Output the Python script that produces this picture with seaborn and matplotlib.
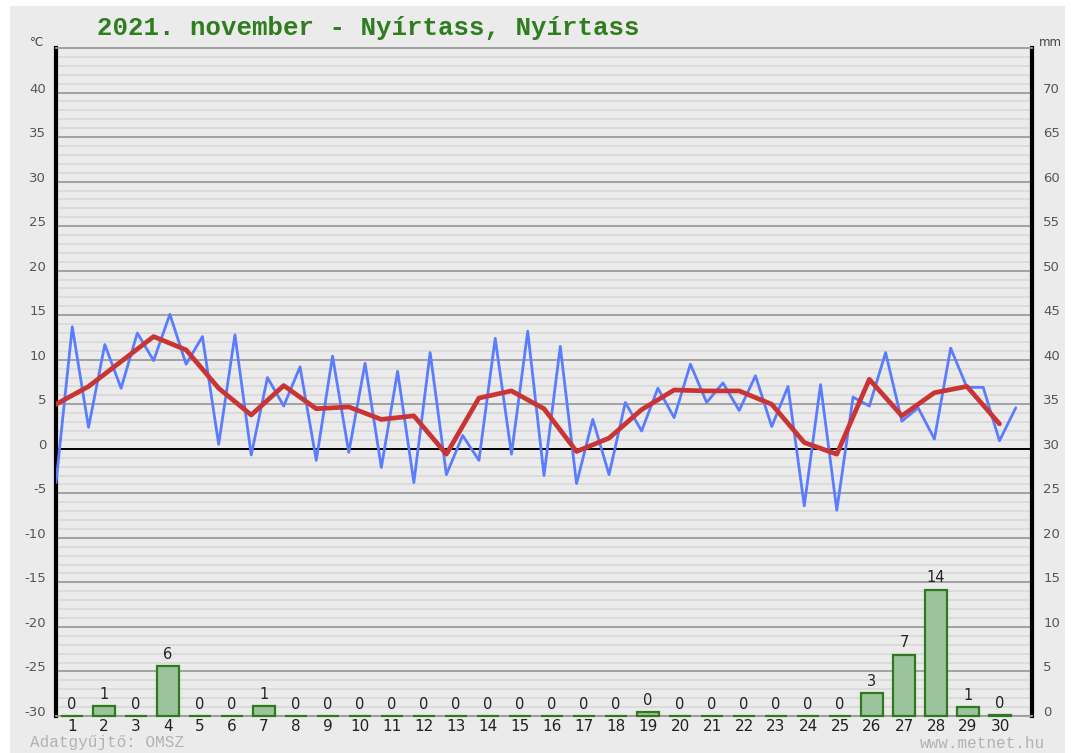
import numpy as np
import pandas as pd
import matplotlib
matplotlib.use("Agg")
import matplotlib.pyplot as plt
import matplotlib.transforms as mtransforms
from matplotlib.patches import Rectangle
import seaborn as sns

# ── Data ──────────────────────────────────────────────────────────────────────
title = "2021. november - Nyírtass, Nyírtass"

# half-day temperatures (night min / day max alternating), °C
temp_halfday = [-3.8, 13.7, 2.4, 11.7, 6.8, 13.0, 9.9, 15.1, 9.5, 12.6,
                0.5, 12.8, -0.7, 8.0, 4.8, 9.2, -1.3, 10.4, -0.4, 9.6,
                -2.1, 8.7, -3.8, 10.8, -2.9, 1.5, -1.3, 12.4, -0.6, 13.2,
                -3.0, 11.5, -3.9, 3.3, -2.9, 5.2, 2.0, 6.8, 3.5, 9.5,
                5.2, 7.4, 4.3, 8.2, 2.5, 7.0, -6.4, 7.2, -6.9, 5.8,
                4.8, 10.8, 3.1, 4.6, 1.1, 11.3, 6.9, 6.9, 0.9, 4.6]

# daily mean temperature, °C
temp_mean = [5.0, 7.0, 9.8, 12.6, 11.1, 6.8, 3.8, 7.1, 4.5, 4.7,
             3.3, 3.7, -0.6, 5.7, 6.5, 4.5, -0.3, 1.2, 4.4, 6.6,
             6.5, 6.5, 5.0, 0.7, -0.6, 7.8, 3.7, 6.3, 7.0, 2.8]

days = list(range(1, 31))
precip_mm = [0, 1.1, 0, 5.6, 0, 0, 1.1, 0, 0, 0,
             0, 0, 0, 0, 0, 0, 0, 0, 0.45, 0,
             0, 0, 0, 0, 0, 2.6, 6.9, 14.2, 1.0, 0.1]

temp_ticks = list(range(-30, 41, 5))
mm_ticks = list(range(0, 71, 5))

half = pd.DataFrame({"slot": np.arange(len(temp_halfday)), "t": temp_halfday})
mean = pd.DataFrame({"slot": np.arange(len(temp_mean)) * 2, "t": temp_mean})
rain = pd.DataFrame({"day": days, "mm": precip_mm})

# ── Figure ────────────────────────────────────────────────────────────────────
sns.set_style("white")
plt.rcParams["axes.unicode_minus"] = False
BG = "#ebebeb"
W, H = 1071, 753
fig = plt.figure(figsize=(W / 100, H / 100), dpi=100, facecolor="white")
fig.patches.append(Rectangle((10 / W, 0), 1055 / W, 747 / H, transform=fig.transFigure,
                             facecolor=BG, edgecolor="none", zorder=-10))

rect = [56 / W, 1 - 716 / H, 976 / W, 668 / H]
ax = fig.add_axes(rect, facecolor=BG)

ax.set_xlim(0, 60)
ax.set_ylim(-30, 45)
ax.set_yticks(temp_ticks)
ax.set_yticks(np.arange(-30, 46, 1), minor=True)
ax.grid(which="minor", axis="y", color="#dadada", lw=1.3)
ax.grid(which="major", axis="y", color="#9c9c9c", lw=1.3)
ax.set_axisbelow(True)
ax.axhline(0, color="black", lw=1.4, zorder=2)

sns.lineplot(data=half, x="slot", y="t", ax=ax, color="#5a7dff", lw=2.0, zorder=3)
sns.lineplot(data=mean, x="slot", y="t", ax=ax, color="#c93535", lw=3.4, zorder=4)

ax.set_xticks([])
ax.set_xlabel("")
ax.set_ylabel("")
ax.tick_params(axis="y", which="both", length=0, pad=7, labelsize=9.5, labelcolor="#555555")
for s in ["left", "right"]:
    ax.spines[s].set_color("black")
    ax.spines[s].set_linewidth(3)
for s in ["top", "bottom"]:
    ax.spines[s].set_color("#9c9c9c")
    ax.spines[s].set_linewidth(1.3)

# precipitation on its own scale (mm), overlaid
ax2 = fig.add_axes(rect, facecolor="none")
sns.barplot(data=rain, x="day", y="mm", ax=ax2, native_scale=True, width=0.7,
            color="#9cc49c", saturation=1, edgecolor="#2f7a1f", linewidth=1.6, zorder=5)
for bar in ax2.containers[0]:
    bar.set_clip_on(False)
ax2.bar_label(ax2.containers[0], labels=[f"{v:.0f}" for v in precip_mm],
              padding=3, fontsize=10.5, color="#222222")
ax2.set_xlim(0.5, 31.0)
ax2.set_ylim(0, 75)
ax2.set_xticks(days)
ax2.set_xticklabels([str(d) for d in days])
ax2.yaxis.tick_right()
ax2.set_yticks(mm_ticks)
ax2.set_xlabel("")
ax2.set_ylabel("")
ax2.tick_params(axis="x", length=0, pad=2, labelsize=11, labelcolor="#222222")
ax2.tick_params(axis="y", length=0, pad=8, labelsize=9.5, labelcolor="#555555")
for s in ax2.spines.values():
    s.set_visible(False)

# axis numbers sit a little above their grid lines, as on metnet
lift = mtransforms.ScaledTranslation(0, 5 / 100, fig.dpi_scale_trans)
for lab in ax.get_yticklabels() + ax2.get_yticklabels():
    lab.set_transform(lab.get_transform() + lift)

# ── Text ──────────────────────────────────────────────────────────────────────
fig.text(97 / W, 1 - 28 / H, title, ha="left", va="center", family="Liberation Mono",
         fontweight="bold", fontsize=18.5, color="#2e7d1e")
fig.text(37 / W, 1 - 42 / H, "°C", ha="center", va="center", fontsize=8.5, color="#444444")
fig.text(1050 / W, 1 - 42 / H, "mm", ha="center", va="center", fontsize=8.5, color="#444444")
fig.text(30 / W, 1 - 743 / H, "Adatgyűjtő: OMSZ", ha="left", va="center",
         family="Liberation Mono", fontsize=11.5, color="#b3b3b3")
fig.text(1045 / W, 1 - 743 / H, "www.metnet.hu", ha="right", va="center",
         family="Liberation Mono", fontsize=11.5, color="#b3b3b3")

fig.savefig("out.png", dpi=100, facecolor=fig.get_facecolor())
